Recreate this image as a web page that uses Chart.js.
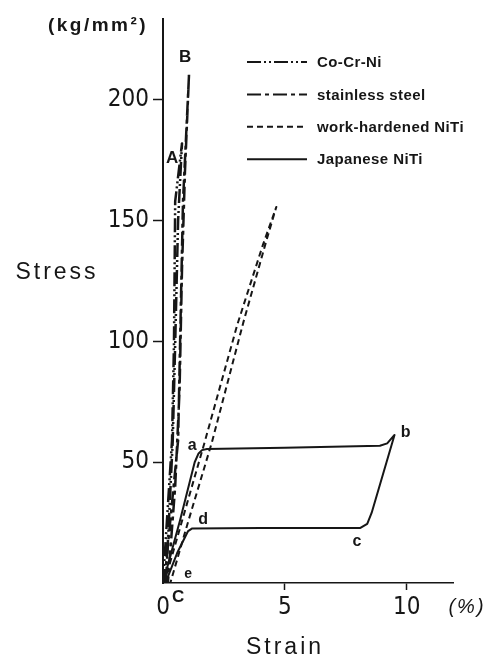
<!DOCTYPE html>
<html>
<head>
<meta charset="utf-8">
<script src="https://cdn.jsdelivr.net/npm/chart.js@4.4.1/dist/chart.umd.min.js"></script>
<style>
  html, body { margin: 0; padding: 0; background: #ffffff; }
  canvas { display: block; }
</style>
</head>
<body>
<canvas id="chart" width="489" height="660"></canvas>
<script>
// Stress (kg/mm²) versus strain (%) for four orthodontic wire alloys.
// Each series is a single path: loading out to the peak, then unloading back.
const seriesNames = ['Co-Cr-Ni', 'stainless steel', 'work-hardened NiTi', 'Japanese NiTi'];

const coCrNiStrain = [0, 0.37, 0.45, 0.5, 0.78, 0.62, 0.5, 0.4, 0.12];
const coCrNiStress = [0, 59, 99, 158, 182, 150, 99, 59, 0];

const steelStrain = [0.05, 0.62, 0.7, 0.82, 1.07, 0.9, 0.78, 0.68, 0.5, 0.2];
const steelStress = [0, 59, 99, 158, 211, 170, 130, 80, 40, 0];

const workHardenedStrain = [0.05, 1.7, 3.05, 4.1, 4.65, 4.25, 3.3, 2.0, 1.05, 0.3];
const workHardenedStress = [0, 58, 107, 140, 155.7, 142, 108, 58, 26, 0];

const japaneseStrain = [0, 0.7, 1.3, 1.45, 1.6, 1.8, 5.0, 8.9, 9.2, 9.5, 8.56, 8.38, 8.1, 4.0, 1.2, 1.03, 0.58, 0.1];
const japaneseStress = [0, 26, 50, 53.5, 55, 55.5, 56, 56.8, 57.8, 61.3, 29, 24.5, 22.8, 22.8, 22.6, 21.5, 12.4, 0];

const strainTicks = [0, 5, 10];
const stressTicks = [50, 100, 150, 200];

const ink = '#161616';
const dashes = [[14, 3, 2, 3, 2, 3], [14, 4, 4, 4], [6, 4], []];
const widths = [2.5, 2.5, 2, 2];

function toPoints(xs, ys) {
  return xs.map((x, i) => ({ x: x, y: ys[i] }));
}

const datasets = [
  toPoints(coCrNiStrain, coCrNiStress),
  toPoints(steelStrain, steelStress),
  toPoints(workHardenedStrain, workHardenedStress),
  toPoints(japaneseStrain, japaneseStress)
].map((pts, i) => ({
  label: seriesNames[i],
  data: pts,
  showLine: true,
  fill: false,
  tension: 0,
  pointRadius: 0,
  borderColor: ink,
  borderWidth: widths[i],
  borderDash: dashes[i],
  borderCapStyle: 'butt',
  borderJoinStyle: 'round'
}));

// Point labels on the curves, anchored to data coordinates with a pixel nudge.
const pointLabels = [
  { text: 'B', x: 1.07, y: 211, dx: -4, dy: -16, size: 17 },
  { text: 'A', x: 0.37, y: 176, dx: 0, dy: 0, size: 17 },
  { text: 'a', x: 1.2, y: 57, dx: 0, dy: 0, size: 16 },
  { text: 'b', x: 9.5, y: 61.3, dx: 11, dy: -2, size: 16 },
  { text: 'c', x: 8.0, y: 22.8, dx: -1, dy: 14, size: 16 },
  { text: 'd', x: 1.03, y: 22.8, dx: 15, dy: -8, size: 16 },
  { text: 'e', x: 1.03, y: 3.5, dx: 0, dy: 0, size: 14 },
  { text: 'C', x: 0.62, y: 0, dx: 0, dy: 14, size: 17 }
];

const annotate = {
  id: 'annotate',
  beforeDraw(chart) {
    const c = chart.ctx;
    c.save();
    c.fillStyle = '#ffffff';
    c.fillRect(0, 0, chart.width, chart.height);
    c.restore();
  },
  afterDraw(chart) {
    const c = chart.ctx;
    const xs = chart.scales.x, ys = chart.scales.y;
    c.save();
    c.fillStyle = ink;
    c.textBaseline = 'middle';

    // axis titles and units
    c.font = 'bold 19px "Liberation Sans", Arial, sans-serif';
    c.letterSpacing = '2.5px';
    c.textAlign = 'center';
    c.fillText('(kg/mm²)', 98, 26);
    c.font = '23px "Liberation Sans", Arial, sans-serif';
    c.letterSpacing = '3px';
    c.fillText('Stress', 57, 273);
    c.fillText('Strain', 285, 648);
    c.font = 'italic 20px "Liberation Sans", Arial, sans-serif';
    c.letterSpacing = '2px';
    c.fillText('(%)', 467, 607);
    c.letterSpacing = '0px';

    // curve labels
    pointLabels.forEach(l => {
      c.font = 'bold ' + l.size + 'px "Liberation Sans", Arial, sans-serif';
      c.fillText(l.text, xs.getPixelForValue(l.x) + l.dx, ys.getPixelForValue(l.y) + l.dy);
    });

    // legend: line sample in each dataset's dash style, then its name
    const lx0 = 247, lx1 = 307, tx = 317;
    chart.data.datasets.forEach((ds, i) => {
      const yy = 62 + i * 32.4;
      c.beginPath();
      c.setLineDash(ds.borderDash);
      c.lineWidth = 2;
      c.strokeStyle = ink;
      c.moveTo(lx0, yy);
      c.lineTo(lx1, yy);
      c.stroke();
      c.setLineDash([]);
      c.font = 'bold 15px "Liberation Sans", Arial, sans-serif';
      c.letterSpacing = '0.4px';
      c.textAlign = 'left';
      c.fillText(ds.label, tx, yy + 1);
      c.letterSpacing = '0px';
      c.textAlign = 'center';
    });
    c.restore();
  }
};

const tickFont = { family: '"Liberation Sans Narrow", "DejaVu Sans Condensed", "Liberation Sans", sans-serif', size: 24 };

new Chart(document.getElementById('chart'), {
  type: 'scatter',
  data: { datasets: datasets },
  options: {
    responsive: false,
    animation: false,
    layout: { padding: { top: 19, right: 36, left: 0, bottom: 0 } },
    plugins: { legend: { display: false }, tooltip: { enabled: false } },
    scales: {
      x: {
        type: 'linear',
        min: 0,
        max: 11.9,
        afterBuildTicks: s => { s.ticks = strainTicks.map(v => ({ value: v })); },
        afterFit: s => { s.height = 77; },
        border: { display: true, color: ink, width: 1.5 },
        grid: {
          display: true,
          drawOnChartArea: false,
          drawTicks: true,
          tickLength: 7,
          tickWidth: 1.5,
          tickColor: ctx => (ctx.tick && ctx.tick.value === 0) ? 'rgba(0,0,0,0)' : ink
        },
        ticks: { color: ink, font: tickFont, padding: 3, maxRotation: 0, autoSkip: false }
      },
      y: {
        type: 'linear',
        min: 0,
        max: 233.5,
        afterBuildTicks: s => { s.ticks = stressTicks.map(v => ({ value: v })); },
        afterFit: s => { s.width = 163; },
        border: { display: true, color: ink, width: 2 },
        grid: {
          display: true,
          drawOnChartArea: false,
          drawTicks: true,
          tickLength: 10,
          tickWidth: 1.5,
          tickColor: ink
        },
        ticks: { color: ink, font: tickFont, padding: 4, autoSkip: false }
      }
    }
  },
  plugins: [annotate]
});
</script>
</body>
</html>
